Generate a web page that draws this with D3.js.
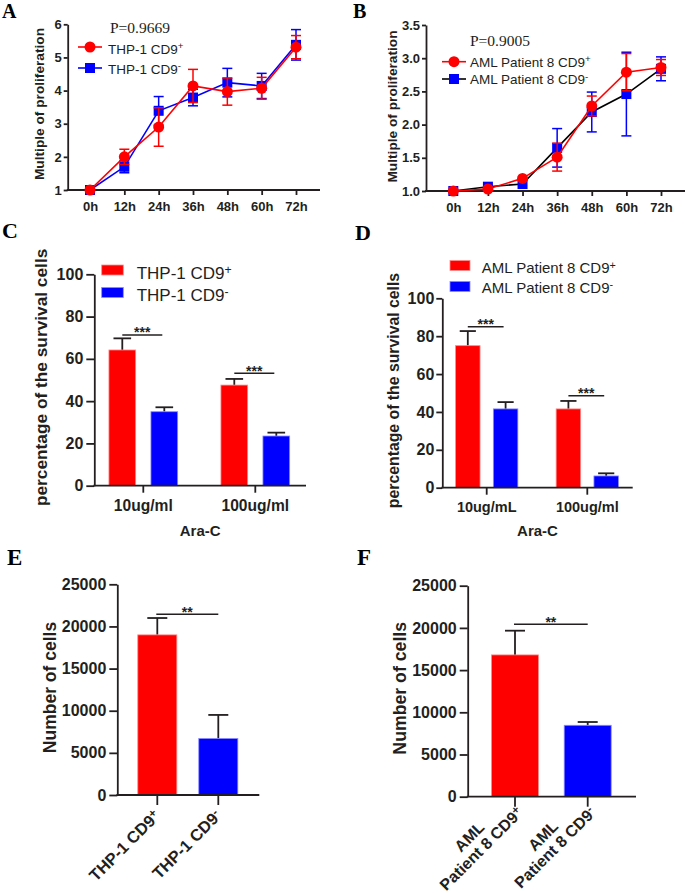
<!DOCTYPE html>
<html><head><meta charset="utf-8">
<script src="https://cdn.jsdelivr.net/npm/d3@7"></script>
<style>
body{margin:0;background:#fff}
svg{display:block}
text{font-family:"Liberation Sans",Arial,sans-serif;fill:#231f20}
</style>
</head><body>
<svg id="c" width="685" height="893"></svg>
<script>
// ---------- DATA ----------
const hours = ["0h","12h","24h","36h","48h","60h","72h"];
// Panel A: THP-1 proliferation
const thpPos    = [1.00, 2.00, 2.90, 4.14, 3.97, 4.07, 5.31];
const thpPosErr = [0.02, 0.23, 0.58, 0.50, 0.41, 0.33, 0.35];
const thpNeg    = [1.00, 1.70, 3.39, 3.79, 4.24, 4.14, 5.38];
const thpNegErr = [0.02, 0.18, 0.43, 0.25, 0.43, 0.38, 0.46];
// Panel B: AML patient 8 proliferation
const amlPos    = [1.00, 1.03, 1.19, 1.51, 2.28, 2.79, 2.86];
const amlPosErr = [0.01, 0.01, 0.02, 0.21, 0.15, 0.28, 0.12];
const amlNeg    = [1.00, 1.065, 1.105, 1.65, 2.19, 2.46, 2.84];
const amlNegErr = [0.01, 0.02, 0.02, 0.29, 0.30, 0.63, 0.18];
const yTicksA = [1,2,3,4,5,6];
const yTicksB = [1.0,1.5,2.0,2.5,3.0,3.5];
// Panel C: THP-1 survival under Ara-C
const dosesC = ["10ug/ml","100ug/ml"];
const survThpPos    = [64.2, 47.6];
const survThpPosErr = [5.5, 2.9];
const survThpNeg    = [35.0, 23.5];
const survThpNegErr = [2.1, 1.6];
const sigC = [71.3, 53.2];
// Panel D: AML survival under Ara-C
const dosesD = ["10ug/mL","100ug/ml"];
const survAmlPos    = [75.0, 41.6];
const survAmlPosErr = [7.7, 4.2];
const survAmlNeg    = [41.6, 6.2];
const survAmlNegErr = [3.6, 1.4];
const sigD = [85.0, 48.6];
const yTicksSurv = [0,20,40,60,80,100];
// Panel E/F: number of cells
const cellsThp    = [19000, 6700];
const cellsThpErr = [2000, 2800];
const sigE = 21440;
const cellsAml    = [16800, 8460];
const cellsAmlErr = [2870, 390];
const sigF = 20430;
const yTicksCells = [0,5000,10000,15000,20000,25000];

// ---------- DRAWING ----------
const svg = d3.select("#c");
const RED = "#ff0000", BLUE = "#0000ff", INK = "#231f20";
const SW = 1.8;
const SANS = "'Liberation Sans', Arial, sans-serif";
const SERIF = "'Liberation Serif','Times New Roman',serif";

function letter(t, x, y, size) {
  svg.append("text").attr("x", x).attr("y", y).text(t)
    .style("font-family", SERIF)
    .style("font-weight", "bold").style("font-size", size + "px").style("fill", "#000");
}
function styleAxis(g, fs) {
  g.attr("font-family", null).attr("font-size", null);
  g.selectAll("path.domain, line").attr("stroke", INK).attr("stroke-width", SW);
  g.selectAll("text").style("font-family", SANS).style("font-size", fs + "px").style("font-weight", "bold").attr("fill", INK);
}
function yTitle(t, x, y, fs) {
  svg.append("text").attr("transform", `translate(${x},${y}) rotate(-90)`)
    .attr("text-anchor", "middle").style("font-family", SANS).style("font-size", fs + "px").style("font-weight", "bold").text(t);
}
function supText(sel, base, sup, fs, weight) {
  const t = sel.style("font-family", SANS).style("font-size", fs + "px").style("font-weight", weight);
  t.append("tspan").text(base);
  t.append("tspan").attr("dy", "-0.42em").style("font-size", (fs * 0.72) + "px").text(sup);
  return t;
}

// ---- line panels ----
function linePanel(cfg) {
  const x = d3.scalePoint().domain(hours).range(cfg.xr);
  const y = d3.scaleLinear().domain(cfg.yd).range(cfg.yr);
  const y0 = y(cfg.yd[0]);
  const gy = svg.append("g").attr("transform", `translate(${cfg.ax},0)`)
    .call(d3.axisLeft(y).tickValues(cfg.yTicks).tickFormat(cfg.fmt).tickSize(4).tickPadding(2).tickSizeOuter(0));
  styleAxis(gy, 13);
  const gx = svg.append("g").attr("transform", `translate(0,${y0})`)
    .call(d3.axisBottom(x).tickSize(5).tickPadding(7));
  gx.select("path.domain").remove();
  styleAxis(gx, 13);
  svg.append("line").attr("x1", cfg.ax - SW/2).attr("x2", cfg.xEnd).attr("y1", y0).attr("y2", y0)
    .attr("stroke", INK).attr("stroke-width", SW);
  const line = d3.line().x((d, i) => x(hours[i])).y(d => y(d));
  cfg.series.forEach(s => {
    const g = svg.append("g");
    g.append("path").datum(s.vals).attr("d", line).attr("fill", "none")
      .attr("stroke", s.lineColor).attr("stroke-width", 1.6);
    s.vals.forEach((v, i) => {
      const e = s.errs[i];
      if (e < 0.03) return;
      const cx = x(hours[i]);
      g.append("line").attr("x1", cx).attr("x2", cx).attr("y1", y(v - e)).attr("y2", y(v + e))
        .attr("stroke", s.color).attr("stroke-width", 1.5);
      [v - e, v + e].forEach(w => g.append("line").attr("x1", cx - 5).attr("x2", cx + 5)
        .attr("y1", y(w)).attr("y2", y(w)).attr("stroke", s.color).attr("stroke-width", 1.5));
    });
    s.vals.forEach((v, i) => {
      const cx = x(hours[i]), cy = y(v);
      if (s.shape === "circle") g.append("circle").attr("cx", cx).attr("cy", cy).attr("r", 5.5).attr("fill", s.color);
      else g.append("rect").attr("x", cx - 5).attr("y", cy - 5).attr("width", 10).attr("height", 10).attr("fill", s.color);
    });
  });
  // legend
  svg.append("text").attr("x", cfg.pX).attr("y", cfg.pY).text(cfg.pText)
    .style("font-family", SERIF).style("font-size", "15.5px");
  cfg.legend.forEach(l => {
    svg.append("line").attr("x1", cfg.lgX0).attr("x2", cfg.lgX1).attr("y1", l.y).attr("y2", l.y)
      .attr("stroke", l.lineColor).attr("stroke-width", 1.6);
    const mx = (cfg.lgX0 + cfg.lgX1) / 2;
    if (l.shape === "circle") svg.append("circle").attr("cx", mx).attr("cy", l.y).attr("r", 5.5).attr("fill", l.color);
    else svg.append("rect").attr("x", mx - 5).attr("y", l.y - 5).attr("width", 10).attr("height", 10).attr("fill", l.color);
    supText(svg.append("text").attr("x", cfg.lgTx).attr("y", l.ty), l.base, l.sup, 13.5, "normal");
  });
}

linePanel({
  xr: [90, 296], yd: [1, 6], yr: [190, 24.3], ax: 67.7, xEnd: 320, yTicks: yTicksA, fmt: d3.format("d"),
  series: [
    {vals: thpNeg, errs: thpNegErr, color: BLUE, lineColor: BLUE, shape: "square"},
    {vals: thpPos, errs: thpPosErr, color: RED, lineColor: RED, shape: "circle"}
  ],
  pX: 110, pY: 33.3, pText: "P=0.9669",
  lgX0: 78, lgX1: 102, lgTx: 108,
  legend: [
    {y: 47, ty: 53.5, color: RED, lineColor: RED, shape: "circle", base: "THP-1 CD9", sup: "+"},
    {y: 68, ty: 73.5, color: BLUE, lineColor: BLUE, shape: "square", base: "THP-1 CD9", sup: "-"}
  ]
});
yTitle("Multiple of proliferation", 44, 104, 13.7);

linePanel({
  xr: [453.3, 661], yd: [1, 3.5], yr: [191, 25], ax: 426, xEnd: 685, yTicks: yTicksB, fmt: d3.format(".1f"),
  series: [
    {vals: amlNeg, errs: amlNegErr, color: BLUE, lineColor: "#000", shape: "square"},
    {vals: amlPos, errs: amlPosErr, color: RED, lineColor: RED, shape: "circle"}
  ],
  pX: 470, pY: 46, pText: "P=0.9005",
  lgX0: 442, lgX1: 466, lgTx: 470,
  legend: [
    {y: 61.7, ty: 66.5, color: RED, lineColor: RED, shape: "circle", base: "AML Patient 8 CD9", sup: "+"},
    {y: 79, ty: 83.8, color: BLUE, lineColor: "#000", shape: "square", base: "AML Patient 8 CD9", sup: "-"}
  ]
});
yTitle("Multiple of proliferation", 396.5, 106.5, 13.7);

// ---- grouped bar panels ----
function errBar(g, cx, yTop, yBar, half) {
  g.append("line").attr("x1", cx).attr("x2", cx).attr("y1", yBar).attr("y2", yTop).attr("stroke", INK).attr("stroke-width", SW);
  g.append("line").attr("x1", cx - half).attr("x2", cx + half).attr("y1", yTop).attr("y2", yTop).attr("stroke", INK).attr("stroke-width", SW);
}
function sig(g, x1, x2, yy, stars, fs) {
  g.append("line").attr("x1", x1).attr("x2", x2).attr("y1", yy).attr("y2", yy).attr("stroke", INK).attr("stroke-width", 1.5);
  g.append("text").attr("x", (x1 + x2) / 2).attr("y", yy + 2.5).attr("text-anchor", "middle")
    .style("font-family", SANS).style("font-size", fs + "px").style("font-weight", "bold").text(stars);
}
function groupPanel(cfg) {
  const y = d3.scaleLinear().domain([0, 100]).range(cfg.yr);
  const x0 = d3.scaleBand().domain(cfg.doses).range(cfg.xr).padding(0);
  const x1 = d3.scaleBand().domain(["pos", "neg"]).range([0, x0.bandwidth()]).paddingInner(cfg.pi).paddingOuter(cfg.po);
  const g = svg.append("g");
  const yZero = y(0);
  cfg.doses.forEach((d, i) => {
    [["pos", cfg.pos, cfg.posErr, RED, "#ff8a8a"], ["neg", cfg.neg, cfg.negErr, BLUE, "#8a8aff"]].forEach(([k, vals, errs, col, edge]) => {
      const bx = x0(d) + x1(k), bw = x1.bandwidth();
      errBar(g, bx + bw / 2, y(vals[i] + errs[i]), y(vals[i]), bw * 0.33);
      g.append("rect").attr("x", bx).attr("y", y(vals[i])).attr("width", bw).attr("height", yZero - y(vals[i]))
        .attr("fill", col).attr("stroke", edge).attr("stroke-width", 0.8);
    });
    const cA = x0(d) + x1("pos") + x1.bandwidth() / 2, cB = x0(d) + x1("neg") + x1.bandwidth() / 2;
    sig(g, cA, cB - 2, y(cfg.sig[i]), "***", 14);
  });
  const gy = svg.append("g").attr("transform", `translate(${cfg.ax},0)`)
    .call(d3.axisLeft(y).tickValues(yTicksSurv).tickSize(cfg.ts).tickPadding(cfg.tp).tickSizeOuter(0));
  styleAxis(gy, 16);
  const gx = svg.append("g").attr("transform", `translate(0,${yZero})`)
    .call(d3.axisBottom(x0).tickSize(7).tickPadding(7));
  gx.select("path.domain").remove();
  styleAxis(gx, cfg.xfs);
  svg.append("line").attr("x1", cfg.ax - SW/2).attr("x2", cfg.xEnd).attr("y1", yZero).attr("y2", yZero)
    .attr("stroke", INK).attr("stroke-width", SW);
  svg.append("text").attr("x", (cfg.ax + cfg.xEnd) / 2).attr("y", 536).attr("text-anchor", "middle")
    .style("font-family", SANS).style("font-size", "15px").style("font-weight", "bold").text("Ara-C");
  // legend
  cfg.legend.forEach(l => {
    svg.append("rect").attr("x", cfg.lgX).attr("y", l.ry).attr("width", cfg.lgW).attr("height", 10)
      .attr("fill", l.color).attr("stroke", l.edge).attr("stroke-width", 0.8);
    supText(svg.append("text").attr("x", cfg.lgTx).attr("y", l.ty), l.base, l.sup, cfg.lgFs, "normal");
  });
}

groupPanel({
  doses: dosesC, pos: survThpPos, posErr: survThpPosErr, neg: survThpNeg, negErr: survThpNegErr, sig: sigC,
  yr: [485.7, 274.3], xr: [87.3, 311.3], pi: 0.364, po: 0.515, ax: 94.3, xEnd: 306, ts: 8, tp: 3, xfs: 15.6,
  lgX: 101.7, lgW: 21.6, lgTx: 136.7, lgFs: 17,
  legend: [
    {ry: 265, ty: 279, color: RED, edge: "#ff8a8a", base: "THP-1 CD9", sup: "+"},
    {ry: 287.5, ty: 301, color: BLUE, edge: "#8a8aff", base: "THP-1 CD9", sup: "-"}
  ]
});
yTitle("percentage of the survival cells", 46.5, 377.4, 17.3);

groupPanel({
  doses: dosesD, pos: survAmlPos, posErr: survAmlPosErr, neg: survAmlNeg, negErr: survAmlNegErr, sig: sigD,
  yr: [487.7, 298.3], xr: [436.4, 637.6], pi: 0.352, po: 0.507, ax: 442.3, xEnd: 632.7, ts: 6, tp: 2, xfs: 14.5,
  lgX: 450, lgW: 20, lgTx: 481.7, lgFs: 15,
  legend: [
    {ry: 260.5, ty: 273.3, color: RED, edge: "#ff8a8a", base: "AML Patient 8 CD9", sup: "+"},
    {ry: 281.5, ty: 292.7, color: BLUE, edge: "#8a8aff", base: "AML Patient 8 CD9", sup: "-"}
  ]
});
yTitle("percentage of the survival cells", 398.5, 390.5, 15.8);

// ---- single bar panels ----
function cellPanel(cfg) {
  const y = d3.scaleLinear().domain([0, 25000]).range(cfg.yr);
  const x = d3.scaleBand().domain(["pos", "neg"]).range(cfg.xr).paddingInner(cfg.pi).paddingOuter(cfg.pi / 2);
  const yZero = y(0);
  const g = svg.append("g");
  [["pos", 0, RED, "#ff8a8a"], ["neg", 1, BLUE, "#8a8aff"]].forEach(([k, i, col, edge]) => {
    const bx = x(k), bw = x.bandwidth();
    errBar(g, bx + bw / 2, y(cfg.vals[i] + cfg.errs[i]), y(cfg.vals[i]), 10);
    g.append("rect").attr("x", bx).attr("y", y(cfg.vals[i])).attr("width", bw).attr("height", yZero - y(cfg.vals[i]))
      .attr("fill", col).attr("stroke", edge).attr("stroke-width", 0.8);
  });
  sig(g, x("pos") + x.bandwidth() / 2 - 1, x("neg") + x.bandwidth() / 2, y(cfg.sig), "**", 14);
  const gy = svg.append("g").attr("transform", `translate(${cfg.ax},0)`)
    .call(d3.axisLeft(y).tickValues(yTicksCells).tickFormat(d3.format("d")).tickSize(8).tickPadding(3).tickSizeOuter(0));
  styleAxis(gy, 16);
  const gx = svg.append("g").attr("transform", `translate(0,${yZero})`)
    .call(d3.axisBottom(x).tickSize(10).tickFormat(""));
  gx.select("path.domain").remove();
  styleAxis(gx, 16);
  svg.append("line").attr("x1", cfg.ax - SW/2).attr("x2", cfg.xEnd).attr("y1", yZero).attr("y2", yZero)
    .attr("stroke", INK).attr("stroke-width", SW);
  cfg.labels.forEach((lab, i) => {
    const cx = x(["pos", "neg"][i]) + x.bandwidth() / 2;
    const tg = svg.append("g").attr("transform", `translate(${cx + cfg.lx},${yZero + cfg.ly}) rotate(-45)`);
    const t2 = tg.append("text").attr("x", 0).attr("y", 0).attr("text-anchor", "end");
    supText(t2, lab.base, lab.sup, cfg.fs, "bold");
    if (lab.line1) {
      const w = t2.node().getComputedTextLength();
      tg.append("text").attr("x", -w / 2).attr("y", -cfg.fs * 1.05).attr("text-anchor", "middle")
        .style("font-family", SANS).style("font-size", cfg.fs + "px").style("font-weight", "bold").text(lab.line1);
    }
  });
}

cellPanel({
  vals: cellsThp, errs: cellsThpErr, sig: sigE, yr: [795, 584.3], xr: [126.8, 248.8], pi: 0.36,
  ax: 117.3, xEnd: 259.3, fs: 16.5, lx: 4, ly: 22,
  labels: [{base: "THP-1 CD9", sup: "+"}, {base: "THP-1 CD9", sup: "-"}]
});
yTitle("Number of cells", 56, 687.5, 17.5);

cellPanel({
  vals: cellsAml, errs: cellsAmlErr, sig: sigF, yr: [796.7, 585.7], xr: [478.65, 624.05], pi: 0.354,
  ax: 467.7, xEnd: 636, fs: 16, lx: 9, ly: 17,
  labels: [{line1: "AML", base: "Patient 8 CD9", sup: "+"}, {line1: "AML", base: "Patient 8 CD9", sup: "-"}]
});
yTitle("Number of cells", 406, 688.3, 17.7);

letter("A", 2, 18, 20);
letter("B", 353, 18, 20);
letter("C", 2, 238, 22);
letter("D", 355, 240, 22);
letter("E", 7, 565, 23);
letter("F", 357, 565, 23);
</script>
</body></html>
